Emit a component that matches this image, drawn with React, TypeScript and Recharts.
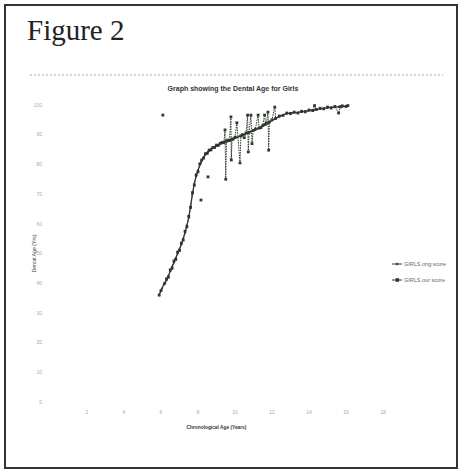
import React from "react";
import { LineChart, Line, XAxis, YAxis, Label } from "recharts";

// chronological age of each girl (years), sorted
const ages = [
  5.9, 6.0, 6.05, 6.1, 6.15, 6.2, 6.3, 6.4, 6.5, 6.6, 6.7, 6.8, 6.9, 7.0, 7.1, 7.2, 7.3, 7.4, 7.5, 7.6,
  7.7, 7.8, 7.9, 8.0, 8.1, 8.14, 8.16, 8.18, 8.2, 8.3, 8.4, 8.5, 8.52, 8.54, 8.56, 8.6, 8.7, 8.8, 8.9, 9.0,
  9.1, 9.2, 9.3, 9.4, 9.46, 9.5, 9.54, 9.6, 9.7, 9.78, 9.8, 9.84, 9.9, 10.0, 10.1, 10.27, 10.32, 10.4, 10.5, 10.6,
  10.68, 10.72, 10.76, 10.86, 10.92, 10.98, 11.1, 11.25, 11.3, 11.4, 11.5, 11.6, 11.65, 11.7, 11.78, 11.82, 11.86, 12.0, 12.15, 12.2,
  12.4, 12.6, 12.8, 13.0, 13.2, 13.4, 13.6, 13.8, 14.0, 14.2, 14.3, 14.4, 14.6, 14.8, 15.0, 15.2, 15.4, 15.6, 15.7, 15.8,
  16.0, 16.1,
];

// GIRLS orig score
const origScore = [
  36, 37.5, 38.2, null, 39.5, 40, 41, 42.5, 44, 45.5, 47, 48.5, 50, 51.5, 53, 55, 57, 59.5, 62, 66,
  70, 73.5, 76, 78, 79.8, 80.4, null, 81, 81.3, 82.4, 83.3, 84, 84.1, null, 84.3, 84.6, 85.1, 85.5, 85.9, 86.3,
  86.6, 86.9, 87.2, 87.5, 87.6, null, 87.8, 88, 88.2, 88.4, null, 88.5, 88.7, 88.9, 89.1, 89.5, 89.6, 89.8, 90.1, 90.4,
  90.6, null, 90.8, 91.1, null, 91.4, 91.7, 92.1, 92.3, 92.6, 92.9, 93.3, 93.5, 93.7, 94, null, 94.3, 94.8, 95.3, 95.5,
  96.1, 96.7, 97.1, 97.3, 97.4, 97.5, 97.7, 97.9, 98.1, 98.3, 98.4, 98.5, 98.7, 98.9, 99.1, 99.2, 99.3, 99.4, 99.45, 99.5,
  99.6, 99.7,
];

// GIRLS our score
const ourScore = [
  36, 37.5, null, 96.6, null, 40, 41.5, 42, 44.5, 45, 47.5, 48, 50.5, 51, 53.5, 54.5, 57.5, 59, 62.5, 65.5,
  70.5, 73, 76.5, 77.5, 80.2, null, 68, null, 81.5, 82.1, 83.6, 83.7, null, 75.8, null, 84.8, 84.9, 85.7, 85.7, 86.5,
  86.4, 87.1, 87.4, 87.3, 91.6, 75, 87.8, 88.2, 88, 96, 81.5, 88.5, 88.5, 89.1, 94, 80.5, 89.6, 90, 89, 90.6,
  96.6, 84.2, 90.8, 96.6, 87, 91.4, 91.9, 96.6, 92.2, 92.4, 93.1, 96.6, 93.5, 93.9, 97.6, 84.8, 94.3, 95, 99.3, 95.5,
  96.3, 96.5, 97.3, 97.1, 97.6, 97.3, 97.9, 97.7, 98.3, 98.1, 99.8, 98.5, 98.9, 98.7, 99.3, 99, 99.5, 97.3, 99.4, 99.7,
  99.5, 99.8,
];

const xTicks = [2, 4, 6, 8, 10, 12, 14, 16, 18];
const yTicks = [0, 10, 20, 30, 40, 50, 60, 70, 80, 90, 100];
const seriesNames = ["GIRLS orig score", "GIRLS our score"];

const data = ages.map((age, i) => ({ age, orig: origScore[i], our: ourScore[i] }));

const INK = "#2f382d";
const narrow = "'Liberation Sans Narrow', 'Liberation Sans', sans-serif";

const origDot = (p: any) => {
  if (p.cy == null || p.value == null) return <g key={`o-${p.index}`} />;
  const r = 1.3;
  return (
    <path
      key={`o-${p.index}`}
      d={`M${p.cx} ${p.cy - r} L${p.cx + r} ${p.cy} L${p.cx} ${p.cy + r} L${p.cx - r} ${p.cy} Z`}
      fill={INK}
    />
  );
};

const ourDot = (p: any) => {
  if (p.cy == null || p.value == null) return <g key={`u-${p.index}`} />;
  return <rect key={`u-${p.index}`} x={p.cx - 1.4} y={p.cy - 1.4} width={2.8} height={2.8} fill={INK} />;
};

const tickStyle = { fontSize: 5, fill: "#aaaaaa", fontFamily: narrow };

export default function App() {
  return (
    <div style={{ position: "absolute", left: 0, top: 0, width: 463, height: 475, background: "#fff" }}>
      <LineChart
        width={463}
        height={475}
        data={data}
        margin={{ top: 105, right: 80, bottom: 53, left: 30 }}
        style={{ position: "absolute", left: 0, top: 0 }}
      >
        <XAxis
          type="number"
          dataKey="age"
          domain={[0, 18]}
          ticks={xTicks}
          axisLine={false}
          tickLine={false}
          tick={tickStyle}
          tickMargin={2}
          height={20}
        >
          <Label
            value="Chronological Age (Years)"
            position="bottom"
            offset={4}
            style={{ fontSize: 4.8, fontWeight: 700, fill: "#333", fontFamily: narrow }}
          />
        </XAxis>
        <YAxis
          type="number"
          domain={[0, 100]}
          ticks={yTicks}
          axisLine={false}
          tickLine={false}
          tick={tickStyle}
          width={20}
        >
          <Label
            content={(props: any) => {
              const vb = props.viewBox || { x: 30, y: 105, width: 20, height: 297 };
              const cx = vb.x + 5;
              const cy = vb.y + vb.height / 2;
              return (
                <text
                  x={cx}
                  y={cy}
                  transform={`rotate(-90 ${cx} ${cy})`}
                  textAnchor="middle"
                  dominantBaseline="middle"
                  style={{ fontSize: 5.2, fill: "#444", fontFamily: narrow }}
                >
                  Dental Age (Yrs)
                </text>
              );
            }}
          />
        </YAxis>
        <Line
          dataKey="orig"
          name={seriesNames[0]}
          stroke={INK}
          strokeWidth={1.3}
          dot={origDot}
          connectNulls
          isAnimationActive={false}
        />
        <Line
          dataKey="our"
          name={seriesNames[1]}
          stroke={INK}
          strokeWidth={1}
          strokeDasharray="1.5 1"
          dot={ourDot}
          connectNulls={false}
          isAnimationActive={false}
        />
      </LineChart>

      <svg width={463} height={475} style={{ position: "absolute", left: 0, top: 0, pointerEvents: "none" }}>
        <rect x={5} y={5} width={452} height={463} fill="none" stroke="#333" strokeWidth={2} />
        <text x={27} y={40} style={{ fontSize: 29, fontFamily: "'Liberation Serif', serif", fill: "#222" }}>
          Figure 2
        </text>
        <line x1={30} y1={75} x2={443} y2={75} stroke="#aaa" strokeWidth={1} strokeDasharray="2 2" />
        <text
          x={233}
          y={91}
          textAnchor="middle"
          style={{ fontSize: 7, fontWeight: 700, fontFamily: narrow, fill: "#333" }}
        >
          Graph showing the Dental Age for Girls
        </text>
        {seriesNames.map((name, i) => {
          const y = 264 + i * 16;
          return (
            <g key={name}>
              <line x1={392} y1={y} x2={402} y2={y} stroke={INK} strokeWidth={1} />
              {i === 0 ? (
                <path d={`M397 ${y - 1.6} L398.6 ${y} L397 ${y + 1.6} L395.4 ${y} Z`} fill={INK} />
              ) : (
                <rect x={395.5} y={y - 1.8} width={3.6} height={3.6} fill={INK} />
              )}
              <text x={404} y={y + 2} style={{ fontSize: 5.5, fontFamily: narrow, fill: "#666" }}>
                {name}
              </text>
            </g>
          );
        })}
      </svg>
    </div>
  );
}
